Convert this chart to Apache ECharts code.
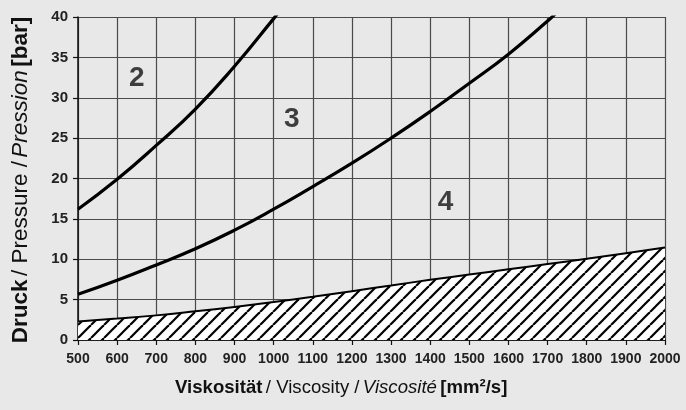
<!DOCTYPE html>
<html>
<head>
<meta charset="utf-8">
<script src="https://cdn.jsdelivr.net/npm/echarts/dist/echarts.min.js"></script>
<style>
html,body{margin:0;padding:0;background:#e8e8e8;}
#chart{width:686px;height:410px;}
</style>
</head>
<body>
<div id="chart"></div>
<script>
// Curve 2
var curve2X = [500, 600, 700, 800, 900, 1000, 1010];
var curve2Y = [16.2, 19.9, 24.1, 28.6, 33.9, 39.8, 40.4];
// Curve 3
var curve3X = [500, 600, 700, 800, 900, 1000, 1100, 1200, 1300, 1400, 1500, 1600, 1700, 1720];
var curve3Y = [5.66, 7.4, 9.3, 11.3, 13.6, 16.2, 19.0, 21.9, 25.0, 28.3, 31.8, 35.4, 39.5, 40.4];
// Lower boundary (hatched area)
var limitX = [500, 600, 700, 800, 900, 1000, 1100, 1200, 1300, 1400, 1500, 1600, 1700, 1800, 1900, 2000];
var limitY = [2.3, 2.65, 3.05, 3.55, 4.1, 4.7, 5.35, 6.05, 6.75, 7.45, 8.1, 8.75, 9.4, 10.05, 10.75, 11.45];
// Region labels
var regionNames = ['2', '3', '4'];
var regionX = [650, 1046, 1439];
var regionY = [32.4, 27.3, 17.0];
// Axis ticks
var xMin = 500, xMax = 2000, xStep = 100;
var yMin = 0, yMax = 40, yStep = 5;

function pairs(xs, ys) { return xs.map(function (x, i) { return [x, ys[i]]; }); }

// hatch pattern
var s = 13;
var cv = document.createElement('canvas');
cv.width = s; cv.height = s;
var ctx = cv.getContext('2d');
ctx.fillStyle = '#ffffff';
ctx.fillRect(0, 0, s, s);
ctx.strokeStyle = '#000000';
ctx.lineWidth = 2.2;
[-s, 0, s].forEach(function (o) {
  ctx.beginPath();
  ctx.moveTo(o, s);
  ctx.lineTo(o + s, 0);
  ctx.stroke();
});

var FONT = '"Liberation Sans", Arial, Helvetica, sans-serif';
var chart = echarts.init(document.getElementById('chart'));
chart.setOption({
  backgroundColor: '#e8e8e8',
  animation: false,
  grid: { left: 78, right: 21, top: 17, bottom: 70, containLabel: false },
  xAxis: {
    type: 'value', min: xMin, max: xMax, interval: xStep,
    axisLine: { show: true, lineStyle: { color: '#111', width: 1.5 } },
    axisTick: { show: true, length: 5, lineStyle: { color: '#111', width: 1.2 } },
    axisLabel: { margin: 12, fontFamily: FONT, fontWeight: 'bold', fontSize: 14, color: '#222',
      formatter: function (v) { return String(v); } },
    splitLine: { show: true, lineStyle: { color: '#4a4a4a', width: 1.2 } }
  },
  yAxis: {
    type: 'value', min: yMin, max: yMax, interval: yStep,
    axisLine: { show: true, lineStyle: { color: '#111', width: 1.5 } },
    axisTick: { show: true, length: 5, lineStyle: { color: '#111', width: 1.2 } },
    axisLabel: { margin: 10, fontFamily: FONT, fontWeight: 'bold', fontSize: 15, color: '#222' },
    splitLine: { show: true, lineStyle: { color: '#4a4a4a', width: 1.2 } }
  },
  series: [
    {
      type: 'line', data: pairs(limitX, limitY), smooth: true, symbol: 'none',
      lineStyle: { color: '#000', width: 2 },
      areaStyle: { color: { image: cv, repeat: 'repeat' }, opacity: 1 },
      z: 3
    },
    {
      type: 'line', data: pairs(curve2X, curve2Y), smooth: true, symbol: 'none', clip: true,
      lineStyle: { color: '#000', width: 3.2 }, z: 4
    },
    {
      type: 'line', data: pairs(curve3X, curve3Y), smooth: true, symbol: 'none', clip: true,
      lineStyle: { color: '#000', width: 3.2 }, z: 4
    },
    {
      type: 'scatter', symbolSize: 1, itemStyle: { color: 'rgba(0,0,0,0)' },
      data: regionNames.map(function (n, i) { return { name: n, value: [regionX[i], regionY[i]] }; }),
      label: { show: true, position: 'inside', formatter: '{b}', fontFamily: FONT, fontWeight: 'bold', fontSize: 28, color: '#111' },
      z: 5
    }
  ],
  graphic: [
    {
      type: 'text', left: 175, top: 378,
      style: {
        text: '{b|Viskosität} {n|/ Viscosity /} {i|Viscosité} {b|[mm²/s]}',
        rich: {
          b: { fontFamily: FONT, fontWeight: 'bold', fontSize: 18.6, fill: '#111' },
          n: { fontFamily: FONT, fontSize: 18.6, fill: '#111' },
          i: { fontFamily: FONT, fontStyle: 'italic', fontSize: 18.6, fill: '#111' }
        }
      }
    },
    {
      type: 'text', x: 21, y: 180, rotation: Math.PI / 2,
      style: {
        text: '{b|Druck} {n|/ Pressure /} {i|Pression} {b|[bar]}',
        align: 'center', verticalAlign: 'middle',
        rich: {
          b: { fontFamily: FONT, fontWeight: 'bold', fontSize: 22.5, fill: '#111' },
          n: { fontFamily: FONT, fontSize: 22.5, fill: '#111' },
          i: { fontFamily: FONT, fontStyle: 'italic', fontSize: 22.5, fill: '#111' }
        }
      }
    }
  ]
});
</script>
</body>
</html>
